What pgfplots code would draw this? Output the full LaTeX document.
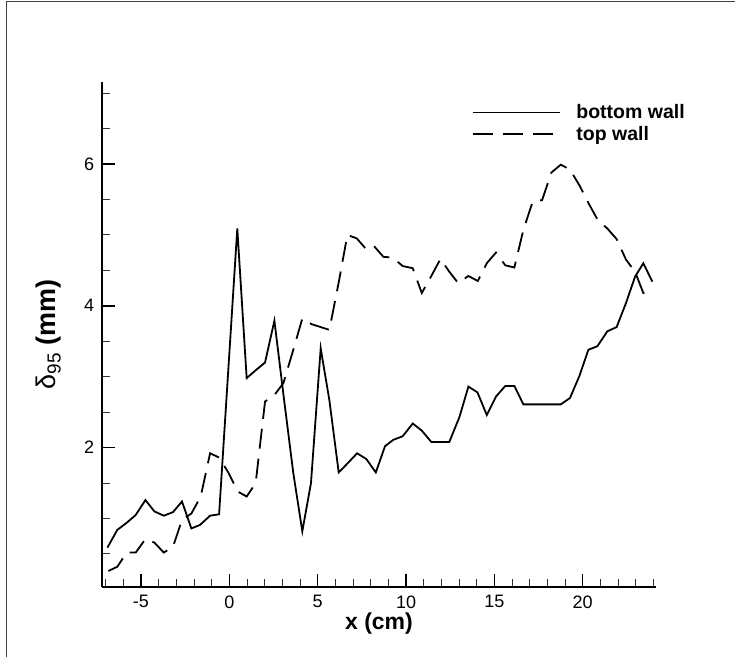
\documentclass[border=0pt]{standalone}
\usepackage{fontspec}
\setmainfont{Liberation Sans}
\usepackage{pgfplots}
\pgfplotsset{compat=1.18}
\begin{document}
\begin{tikzpicture}[x=1pt,y=1pt]
\path[use as bounding box] (0,0) rectangle (735,657);
\draw[line width=1pt, black!75] (6.5,0) -- (6.5,655.5) -- (735,655.5);
\begin{axis}[
  at={(102.3pt,69.7pt)}, anchor=south west,
  scale only axis, width=553.4pt, height=505.6pt,
  xmin=-7.19, xmax=24.13, ymin=0.03, ymax=7.16,
  axis lines*=left,
  axis line style={line width=1.8pt},
  tick align=inside,
  xtick={-5,0,5,10,15,20},
  minor xtick={-7,-6,...,24},
  ytick={2,4,6},
  minor ytick={0.5,1,...,7},
  major tick length=13pt, minor tick length=8pt,
  major tick style={line width=1.5pt, black},
  minor tick style={line width=1pt, black!80},
  tick label style={font=\fontsize{18}{20}\selectfont},
  /pgf/number format/assume math mode=true,
  xticklabel style={inner sep=0pt, yshift=-8pt},
  yticklabel style={inner sep=0pt, xshift=-8pt},
  xlabel={x (cm)},
  xlabel style={at={(axis description cs:0.5,-0.0715)}, anchor=center, font=\fontsize{23}{25}\selectfont\bfseries},
  ylabel={δ\textsubscript{95} \textbf{(mm)}},
  ylabel style={at={(axis description cs:-0.0963,0.5)}, anchor=center, font=\fontsize{27}{29}\selectfont},
  legend cell align=left,
  legend image code/.code={\draw[#1] (0pt,0pt) -- (87pt,0pt);},
  legend style={at={(axis description cs:0.6675,0.9589)}, anchor=north west, draw=none, fill=none, inner sep=0pt,
    font=\fontsize{19.5}{22}\selectfont\bfseries, column sep=13.7pt, row sep=2pt},
]
\addplot[black, line width=1.8pt] coordinates {
(-6.90,0.59) (-6.34,0.84) (-5.81,0.94) (-5.30,1.05) (-4.75,1.26) (-4.24,1.10)
(-3.71,1.04) (-3.19,1.09) (-2.68,1.24) (-2.15,0.86) (-1.66,0.91) (-1.09,1.04)
(-0.58,1.06) (0.45,5.09) (0.98,2.98) (1.49,3.09) (2.02,3.20) (2.55,3.79)
(3.06,2.75) (3.62,1.64) (4.13,0.82) (4.62,1.50) (5.17,3.40) (5.66,2.67)
(6.19,1.65) (6.70,1.78) (7.23,1.92) (7.75,1.84) (8.29,1.65) (8.81,2.02)
(9.28,2.11) (9.81,2.16) (10.38,2.34) (10.89,2.24) (11.43,2.08) (11.95,2.08)
(12.45,2.08) (13.02,2.43) (13.53,2.86) (14.04,2.78) (14.57,2.46) (15.09,2.72)
(15.62,2.87) (16.13,2.87) (16.64,2.61) (17.17,2.61) (17.70,2.61) (18.23,2.61)
(18.76,2.61) (19.28,2.70) (19.81,3.01) (20.32,3.38) (20.83,3.43) (21.39,3.64)
(21.92,3.70) (22.45,4.04) (22.96,4.41) (23.43,4.60) (23.94,4.34)
};
\addlegendentry{bottom wall}
\addplot[black, line width=1.8pt, dash pattern=on 20pt off 10pt] coordinates {
(-6.85,0.26) (-6.34,0.32) (-5.81,0.52) (-5.30,0.52) (-4.75,0.71) (-4.24,0.66)
(-3.71,0.52) (-3.19,0.60) (-2.68,0.98) (-2.15,1.07) (-1.62,1.31) (-1.09,1.92)
(-0.58,1.86) (-0.06,1.65) (0.48,1.38) (0.98,1.31) (1.49,1.50) (2.02,2.65)
(2.55,2.74) (3.06,2.91) (3.62,3.38) (4.13,3.82) (4.66,3.74) (5.17,3.70)
(5.66,3.66) (6.19,4.33) (6.68,5.00) (7.21,4.95) (7.74,4.80) (8.19,4.84)
(8.72,4.69) (9.25,4.68) (9.81,4.56) (10.38,4.53) (10.89,4.18) (11.43,4.42)
(11.95,4.66) (12.45,4.48) (12.95,4.32) (13.53,4.42) (14.06,4.35) (14.57,4.60)
(15.09,4.75) (15.62,4.57) (16.13,4.54) (16.64,5.07) (17.17,5.47) (17.70,5.49)
(18.23,5.88) (18.76,5.99) (19.28,5.92) (19.81,5.70) (20.32,5.45) (20.85,5.21)
(21.39,5.09) (21.92,4.94) (22.45,4.65) (22.96,4.48) (23.43,4.18) (23.94,4.25)
};
\addlegendentry{top wall}
\end{axis}
\end{tikzpicture}
\end{document}
